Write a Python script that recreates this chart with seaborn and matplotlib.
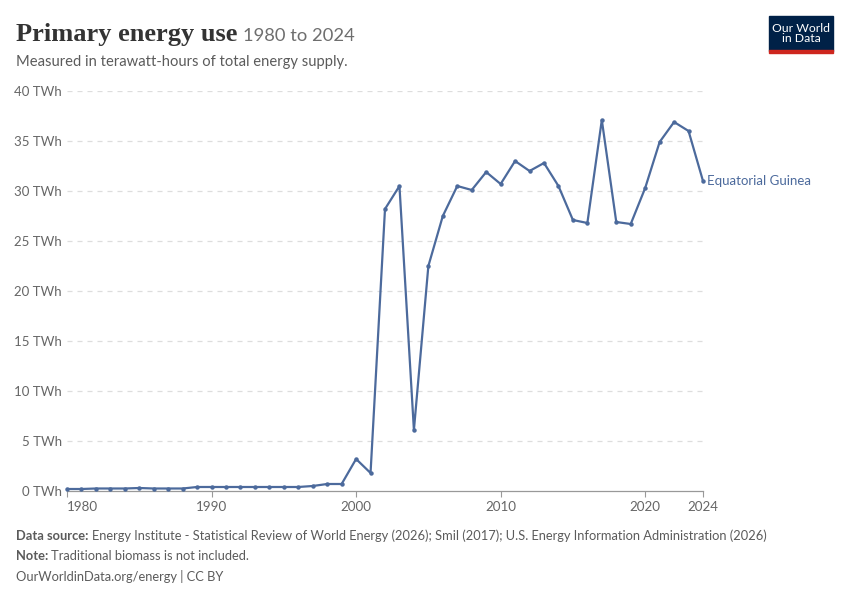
import pandas as pd
import matplotlib.pyplot as plt
import seaborn as sns
from matplotlib.patches import Rectangle

years = list(range(1980, 2025))
energy_twh = [
    0.2, 0.2, 0.25, 0.25, 0.25, 0.3, 0.25, 0.25, 0.25, 0.4,
    0.4, 0.4, 0.4, 0.4, 0.4, 0.4, 0.4, 0.5, 0.7, 0.7,
    3.2, 1.8, 28.2, 30.5, 6.1, 22.5, 27.5, 30.5, 30.1, 31.9,
    30.7, 33.0, 32.0, 32.8, 30.5, 27.1, 26.8, 37.1, 26.9, 26.7,
    30.3, 34.9, 36.9, 36.0, 31.0,
]
country = "Equatorial Guinea"
y_ticks = [0, 5, 10, 15, 20, 25, 30, 35, 40]
x_ticks = [1980, 1990, 2000, 2010, 2020, 2024]

sns.set_theme(style="white")
plt.rcParams['font.family'] = ['Lato', 'DejaVu Sans']

df = pd.DataFrame({"year": years, "value": energy_twh})

line_col = "#4c6a9c"
grey = "#5b5b5b"

fig = plt.figure(figsize=(8.5, 6), dpi=100)
ax = fig.add_axes([67 / 850, 109 / 600, 636 / 850, 400 / 600])

sns.lineplot(data=df, x="year", y="value", ax=ax, color=line_col, linewidth=1.6,
             marker="o", markersize=3.2, markeredgewidth=0, clip_on=False, zorder=3)

ax.set_xlim(1980, 2024)
ax.set_ylim(0, 40)
ax.set_yticks(y_ticks)
ax.set_yticklabels([f"{v} TWh" for v in y_ticks], color="#666666", fontsize=9.5)
ax.set_xticks(x_ticks)
ax.set_xticklabels([str(v) for v in x_ticks], color="#666666", fontsize=9.6)
ax.get_xticklabels()[0].set_horizontalalignment("left")
ax.set_xlabel("")
ax.set_ylabel("")

for v in y_ticks[1:]:
    ax.axhline(v, color="#dddddd", linewidth=0.9, linestyle=(0, (4, 4)), zorder=1)

for s in ["top", "right", "left"]:
    ax.spines[s].set_visible(False)
ax.spines["bottom"].set_color("#999999")
ax.spines["bottom"].set_linewidth(0.9)
ax.tick_params(axis="x", length=4, width=0.8, color="#999999", pad=3, bottom=True)
ax.tick_params(axis="y", length=0, pad=3.6)

ax.text(2024.3, energy_twh[-1], country, color=line_col, fontsize=9.5,
        va="center", ha="left", transform=ax.transData)

fig.canvas.draw()
renderer = fig.canvas.get_renderer()


def text_after(prev, gap_px, y, s, **kw):
    bb = prev.get_window_extent(renderer)
    return fig.text((bb.x1 + gap_px) / 850, y, s, va="baseline", **kw)


# header
title = fig.text(16 / 850, 1 - 41 / 600, "Primary energy use", fontsize=19, fontweight="bold",
                 family=["Liberation Serif", "DejaVu Serif"], color="#333333", va="baseline")
text_after(title, 6, 1 - 41 / 600, "1980 to 2024", fontsize=13.2, color="#6e6e6e")
fig.text(16 / 850, 1 - 66 / 600, "Measured in terawatt-hours of total energy supply.",
         fontsize=10.6, color=grey, va="baseline")

# logo
fig.patches.append(Rectangle((769 / 850, 1 - 51 / 600), 64 / 850, 35 / 600,
                             transform=fig.transFigure, color="#002147", zorder=5))
fig.patches.append(Rectangle((769 / 850, 1 - 53 / 600), 64 / 850, 3 / 600,
                             transform=fig.transFigure, color="#ce261e", zorder=5))
fig.text(801 / 850, 1 - 33.5 / 600, "Our World\nin Data", color="white", fontsize=8.8,
         ha="center", va="center", linespacing=1.0, zorder=6)

# footer
src = fig.text(16 / 850, 1 - 540 / 600, "Data source:", fontsize=9.3, color=grey,
               fontweight="bold", va="baseline")
text_after(src, 3, 1 - 540 / 600,
           "Energy Institute - Statistical Review of World Energy (2026); Smil (2017); "
           "U.S. Energy Information Administration (2026)",
           fontsize=9.3, color=grey)
note = fig.text(16 / 850, 1 - 560 / 600, "Note:", fontsize=9.3, color=grey,
                fontweight="bold", va="baseline")
text_after(note, 3, 1 - 560 / 600, "Traditional biomass is not included.",
           fontsize=9.3, color=grey)
fig.text(16 / 850, 1 - 581 / 600, "OurWorldinData.org/energy | CC BY",
         fontsize=9.3, color=grey, va="baseline")

fig.savefig("out.png", dpi=100)
